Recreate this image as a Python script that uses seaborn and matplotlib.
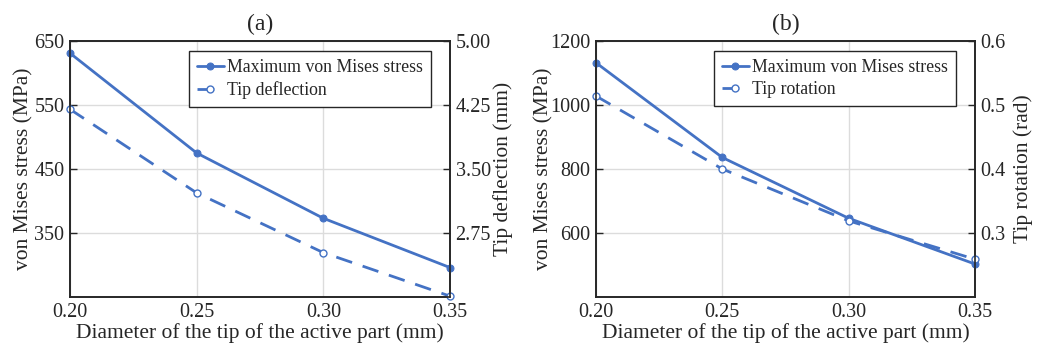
import numpy as np
import pandas as pd
import matplotlib
matplotlib.use("Agg")
import matplotlib.pyplot as plt
import seaborn as sns

diameter = [0.20, 0.25, 0.30, 0.35]

# panel (a)
stress_a = [631, 475, 373, 296]
deflection_a = [4.20, 3.22, 2.52, 2.01]

# panel (b)
stress_b = [1132, 836, 646, 503]
rotation_b = [0.514, 0.400, 0.319, 0.259]

xticks = [0.20, 0.25, 0.30, 0.35]
xticklabels = ["0.20", "0.25", "0.30", "0.35"]

sns.set_theme(style="white")
plt.rcParams['font.family'] = ['Liberation Serif', 'DejaVu Serif']

BLUE = '#4472C4'
DARK = '#262626'


def panel(ax, stress, second, title, right_label, right_name,
          left_lim, left_ticks, right_lim, right_ticks, right_fmt,
          left_lab_x, right_lab_x):
    df = pd.DataFrame({'d': diameter, 'stress': stress, 'second': second})
    sns.lineplot(data=df, x='d', y='stress', ax=ax, color=BLUE, lw=2,
                 marker='o', markersize=5, markeredgecolor=BLUE, clip_on=False,
                 label='Maximum von Mises stress', legend=False, zorder=5)
    ax.set_xlim(0.2, 0.35)
    ax.set_ylim(*left_lim)
    ax.set_yticks(left_ticks)
    ax.set_xticks(xticks)
    ax.set_xticklabels(xticklabels)
    ax.grid(True, color='#dcdcdc', lw=1)
    ax.set_axisbelow(True)
    ax.set_xlabel('Diameter of the tip of the active part (mm)', fontsize=15.5, labelpad=1)
    ax.set_ylabel('von Mises stress (MPa)', fontsize=15.5)
    ax.yaxis.set_label_coords(left_lab_x, 0.5)
    ax.set_title(title, fontsize=17, pad=8)
    ax.tick_params(direction='in', length=5, labelsize=14.5, colors=DARK,
                   width=1, pad=4)

    ax2 = ax.twinx()
    sns.lineplot(data=df, x='d', y='second', ax=ax2, color=BLUE, lw=2,
                 marker='o', markersize=5, markerfacecolor='white',
                 markeredgecolor=BLUE, markeredgewidth=1, clip_on=False,
                 label=right_name, legend=False)
    ax2.lines[0].set_dashes([6, 4])
    ax2.set_ylim(*right_lim)
    ax2.set_yticks(right_ticks)
    ax2.set_yticklabels([right_fmt.format(t) for t in right_ticks])
    ax2.set_ylabel(right_label, fontsize=15.5)
    ax2.yaxis.set_label_coords(right_lab_x, 0.5)
    ax2.tick_params(direction='in', length=5, labelsize=14.5, colors=DARK,
                    width=1, pad=4)
    for a in (ax, ax2):
        for s in a.spines.values():
            s.set_color(DARK)
            s.set_linewidth(1.2)

    h1, l1 = ax.get_legend_handles_labels()
    h2, l2 = ax2.get_legend_handles_labels()
    leg = ax2.legend(h1 + h2, l1 + l2, loc='upper right',
                     bbox_to_anchor=(0.95, 0.962), fontsize=12.8,
                     frameon=True, fancybox=False, edgecolor=DARK,
                     handlelength=1.5, handletextpad=0.2, borderpad=0.45,
                     labelspacing=0.3, borderaxespad=0, framealpha=1)
    leg.get_frame().set_linewidth(1.0)


fig = plt.figure(figsize=(10.41, 3.47), dpi=100)
ax_a = fig.add_axes([70 / 1041, 50 / 347, 380 / 1041, 256 / 347])
ax_b = fig.add_axes([596 / 1041, 50 / 347, 379 / 1041, 256 / 347])

panel(ax_a, stress_a, deflection_a, '(a)', 'Tip deflection (mm)', 'Tip deflection',
      (250, 650), [350, 450, 550, 650], (2.0, 5.0), [2.75, 3.50, 4.25, 5.00], '{:.2f}',
      -0.097, 1.113)
panel(ax_b, stress_b, rotation_b, '(b)', 'Tip rotation (rad)', 'Tip rotation',
      (400, 1200), [600, 800, 1000, 1200], (0.2, 0.6), [0.3, 0.4, 0.5, 0.6], '{:.1f}',
      -0.113, 1.100)

fig.savefig('out.png', dpi=100)
